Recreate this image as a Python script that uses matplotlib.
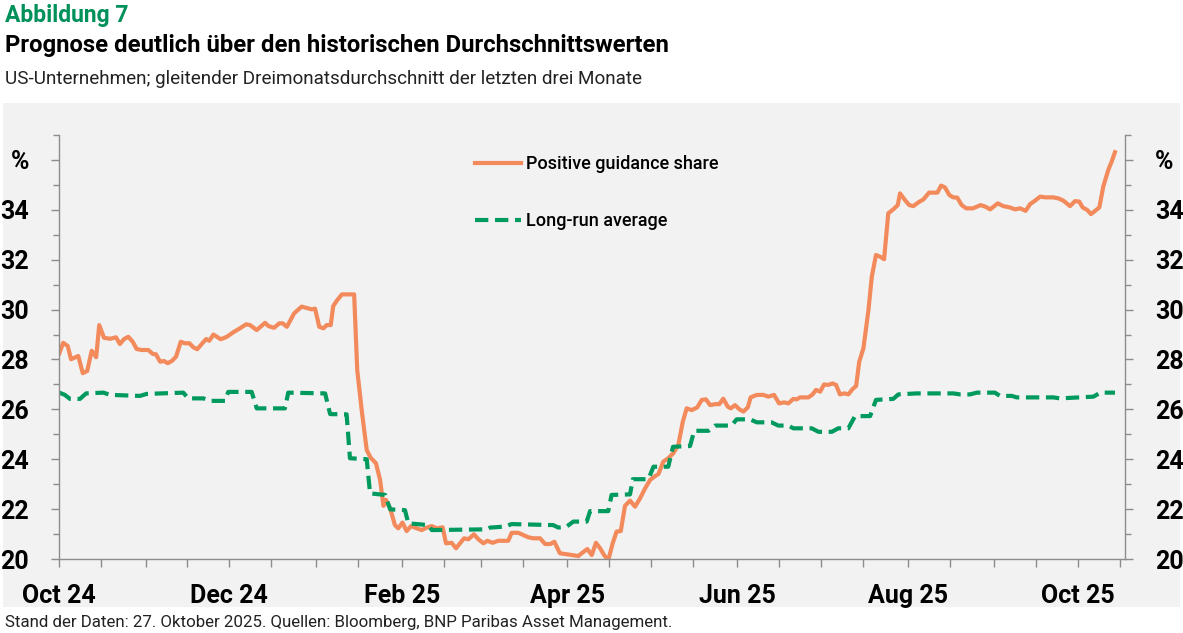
import pandas as pd
import matplotlib
matplotlib.use("Agg")
import matplotlib.pyplot as plt
import matplotlib.dates as mdates
from matplotlib.patches import Rectangle

plt.rcParams['font.family'] = ['Roboto', 'DejaVu Sans']

START = pd.Timestamp('2024-10-01')

# days after 1 Oct 2024
orange_days = [0.1, 1.5, 3.1, 4.3, 6.9, 8.5, 10.1, 11.7, 13.3, 14.4, 16.1, 18.3, 20.4, 21.8,
               23.3, 24.8, 26.4, 27.8, 29.6, 32.0, 33.6, 34.7, 36.2, 37.6, 38.9, 40.4, 41.9,
               43.6, 45.1, 46.7, 48.1, 49.5, 51.1, 52.7, 53.8, 55.3, 57.9, 60.1, 62.4, 64.8,
               67.0, 68.4, 70.8, 73.8, 75.0, 77.0, 78.9, 80.1, 81.6, 84.2, 86.9, 90.5, 91.7,
               93.2, 94.7, 95.9, 97.3, 98.2, 99.5, 101.3, 105.7, 106.8, 108.4, 110.2, 111.6,
               113.5, 115.0, 116.2, 117.1, 118.6, 120.3, 121.5, 123.0, 124.5, 126.1, 128.1,
               129.9, 131.7, 133.5, 135.3, 137.4, 138.6, 140.6, 142.2, 143.6, 145.1, 146.6,
               148.6, 150.2, 152.0, 153.4, 155.3, 157.3, 158.9, 160.9, 162.1, 164.5, 166.3,
               168.1, 169.9, 172.3, 174.1, 175.9, 177.4, 179.4, 181.2, 183.6, 186.0, 187.2,
               189.2, 190.8, 192.3, 193.8, 195.2, 196.7, 198.3, 199.7, 201.2, 202.7, 204.5,
               206.3, 208.1, 209.9, 211.7, 213.2, 214.7, 216.4, 218.2, 220.0, 221.8, 223.4,
               224.8, 226.6, 228.6, 230.2, 231.7, 233.2, 235.0, 236.5, 237.9, 239.5, 240.6,
               242.1, 243.7, 245.1, 246.7, 247.7, 249.9, 252.3, 254.0, 256.1, 257.9, 259.7,
               261.2, 263.0, 264.2, 265.4, 268.4, 269.9, 271.1, 272.6, 274.0, 275.5, 277.0,
               278.3, 279.7, 281.3, 282.7, 284.1, 285.5, 286.6, 288.1, 289.9, 291.1, 292.6,
               294.1, 295.5, 297.0, 298.8, 300.4, 301.2, 303.0, 304.5, 306.0, 307.8, 309.6,
               311.6, 314.6, 315.9, 317.3, 318.9, 320.3, 321.7, 323.3, 324.9, 327.3, 330.1,
               331.7, 333.5, 336.2, 338.2, 340.4, 342.4, 344.2, 346.2, 347.8, 349.6, 351.4,
               353.2, 356.1, 357.9, 359.7, 362.1, 363.9, 365.4, 366.6, 368.3, 369.6, 371.1,
               372.6, 374.0, 375.8, 377.0, 378.2]
positive_share = [28.25, 28.67, 28.54, 28.01, 28.14, 27.45, 27.54, 28.35, 28.09, 29.38, 28.87,
                  28.83, 28.89, 28.62, 28.82, 28.91, 28.71, 28.42, 28.38, 28.38, 28.22, 28.21,
                  27.91, 27.94, 27.85, 27.94, 28.11, 28.71, 28.65, 28.65, 28.49, 28.41, 28.62,
                  28.82, 28.75, 29.0, 28.81, 28.91, 29.09, 29.25, 29.41, 29.38, 29.18, 29.47,
                  29.34, 29.27, 29.45, 29.45, 29.31, 29.85, 30.12, 30.01, 30.04, 29.31, 29.25,
                  29.38, 29.38, 30.14, 30.36, 30.61, 30.61, 27.58, 25.97, 24.37, 24.06, 23.84,
                  23.17, 22.13, 22.37, 22.03, 21.36, 21.23, 21.46, 21.12, 21.32, 21.23, 21.16,
                  21.26, 21.32, 21.23, 21.27, 20.63, 20.65, 20.43, 20.63, 20.83, 20.79, 20.99,
                  20.79, 20.63, 20.73, 20.65, 20.73, 20.73, 20.73, 21.05, 21.05, 20.96, 20.87,
                  20.83, 20.83, 20.6, 20.6, 20.69, 20.23, 20.2, 20.16, 20.12, 20.23, 20.4,
                  20.16, 20.65, 20.43, 20.16, 19.95, 20.63, 21.1, 21.12, 22.13, 22.34, 22.1,
                  22.43, 22.83, 23.17, 23.3, 23.41, 23.9, 24.04, 24.24, 24.57, 25.5, 26.04,
                  25.97, 26.08, 26.38, 26.4, 26.17, 26.21, 26.21, 26.43, 26.11, 26.04, 26.17,
                  26.0, 25.91, 26.08, 26.48, 26.58, 26.58, 26.51, 26.58, 26.24, 26.28, 26.24,
                  26.42, 26.4, 26.48, 26.48, 26.6, 26.78, 26.71, 27.0, 26.98, 27.04, 26.98,
                  26.6, 26.64, 26.6, 26.8, 26.94, 27.91, 28.45, 29.98, 31.32, 32.19, 32.12,
                  32.02, 33.86, 34.02, 34.19, 34.66, 34.39, 34.19, 34.15, 34.3, 34.42, 34.69,
                  34.69, 34.97, 34.9, 34.59, 34.5, 34.49, 34.19, 34.06, 34.06, 34.19, 34.13,
                  34.02, 34.26, 34.15, 34.1, 34.02, 34.06, 33.96, 34.23, 34.37, 34.53, 34.5,
                  34.5, 34.46, 34.37, 34.15, 34.35, 34.33, 34.1, 33.99, 33.83, 33.96, 34.1,
                  34.93, 35.6, 35.93, 36.31]

green_days = [0.1, 2.1, 3.9, 7.5, 9.7, 15.9, 18.3, 29.0, 31.4, 44.5, 46.3, 51.7, 54.1, 59.5,
              60.6, 69.0, 70.8, 80.9, 82.1, 95.3, 97.1, 103.0, 104.2, 110.2, 111.4, 116.8,
              118.6, 123.9, 125.1, 132.3, 133.5, 153.2, 154.4, 159.7, 162.1, 177.0, 178.8,
              181.8, 184.2, 189.0, 190.2, 196.7, 197.9, 204.5, 205.5, 211.1, 212.9, 218.2,
              219.9, 226.0, 227.5, 232.6, 235.0, 240.9, 242.7, 247.5, 249.9, 255.2, 257.6,
              261.2, 263.0, 269.6, 272.0, 276.8, 279.1, 282.7, 285.1, 290.5, 292.6, 298.8,
              300.6, 307.2, 320.3, 322.7, 326.3, 328.7, 335.2, 337.0, 341.2, 343.0, 356.1,
              358.5, 370.5, 372.9, 378.2]
long_run_avg = [26.67, 26.58, 26.42, 26.42, 26.64, 26.67, 26.58, 26.54, 26.62, 26.67, 26.44,
                26.44, 26.34, 26.34, 26.7, 26.7, 26.04, 26.04, 26.67, 26.64, 25.81, 25.8,
                24.04, 24.0, 22.63, 22.57, 21.99, 21.96, 21.43, 21.36, 21.16, 21.19, 21.26,
                21.3, 21.4, 21.36, 21.26, 21.3, 21.5, 21.5, 21.92, 21.92, 22.57, 22.59, 23.2,
                23.2, 23.7, 23.7, 24.5, 24.53, 25.14, 25.14, 25.35, 25.35, 25.6, 25.6, 25.48,
                25.48, 25.35, 25.35, 25.24, 25.24, 25.1, 25.1, 25.24, 25.24, 25.73, 25.73,
                26.38, 26.42, 26.6, 26.64, 26.64, 26.6, 26.6, 26.67, 26.67, 26.54, 26.54,
                26.48, 26.48, 26.44, 26.51, 26.67, 26.67]

y_ticks = [20, 22, 24, 26, 28, 30, 32, 34, 36]
y_labels = ['20', '22', '24', '26', '28', '30', '32', '34', '%']

ORANGE = '#F28A5C'
GREEN = '#009A5E'
GREY_BG = '#F2F2F2'
AXIS = '#8C8C8C'

fig = plt.figure(figsize=(11.83, 6.33), dpi=100)

# grey panel behind the plot, drawn as its own axes so it sits underneath
bg = fig.add_axes([0.0025, 0.041, 0.995, 0.797], zorder=-1)
bg.add_patch(Rectangle((0, 0), 1, 1, transform=bg.transAxes, facecolor=GREY_BG, edgecolor='none'))
bg.set_axis_off()

ax = fig.add_axes([0.0499, 0.1169, 0.9011, 0.6698])
ax.set_facecolor('none')

x_orange = START + pd.to_timedelta(orange_days, unit='D')
x_green = START + pd.to_timedelta(green_days, unit='D')

ax.plot(x_orange, positive_share, color=ORANGE, lw=3, solid_joinstyle='round',
        label='Positive guidance share')
ax.plot(x_green, long_run_avg, color=GREEN, lw=3, dashes=(3.2, 1.6),
        label='Long-run average')

ax.set_xlim(START, START + pd.Timedelta(days=381.8))
ax.set_ylim(20, 37)

ax.xaxis.set_major_locator(mdates.MonthLocator(bymonth=[2, 4, 6, 8, 10, 12], bymonthday=1))
ax.xaxis.set_minor_locator(mdates.DayLocator(bymonthday=[1, 16]))
ax.xaxis.set_major_formatter(mdates.DateFormatter('%b %y'))

ax.set_yticks(y_ticks)
ax.set_yticklabels(y_labels)
ax.set_yticks(range(21, 38, 2), minor=True)

for s in ['left', 'right', 'bottom']:
    ax.spines[s].set_color(AXIS)
    ax.spines[s].set_linewidth(1)
ax.spines['top'].set_visible(False)

ax.tick_params(axis='y', which='both', left=True, right=True, labelleft=True, labelright=True,
               color=AXIS, width=1, labelsize=18, pad=16)
ax.tick_params(axis='y', which='major', length=5.5)
ax.tick_params(axis='y', which='minor', length=4.5)
ax.tick_params(axis='x', which='both', length=6, color=AXIS, width=1, labelsize=18, pad=12)
for lab in ax.get_xticklabels() + ax.get_yticklabels():
    lab.set_fontweight('semibold')

leg = ax.legend(loc='upper left', bbox_to_anchor=(0.39, 0.952), frameon=False,
                fontsize=13, handlelength=2.55, handletextpad=0.3, labelspacing=2.15,
                borderpad=0, borderaxespad=0)
for t in leg.get_texts():
    t.set_fontweight('medium')

fig.text(0.004, 0.965, 'Abbildung 7', fontsize=16.5, fontweight='bold', color='#00915A',
         va='baseline')
fig.text(0.004, 0.918, 'Prognose deutlich über den historischen Durchschnittswerten',
         fontsize=17.2, fontweight='bold', color='black', va='baseline')
fig.text(0.004, 0.868, 'US-Unternehmen; gleitender Dreimonatsdurchschnitt der letzten drei Monate',
         fontsize=13.6, color='#222222', va='baseline')
fig.text(0.004, 0.01, 'Stand der Daten: 27. Oktober 2025. Quellen: Bloomberg, BNP Paribas Asset Management.',
         fontsize=12.2, color='#222222', va='baseline')

fig.savefig('out.png', dpi=100)
